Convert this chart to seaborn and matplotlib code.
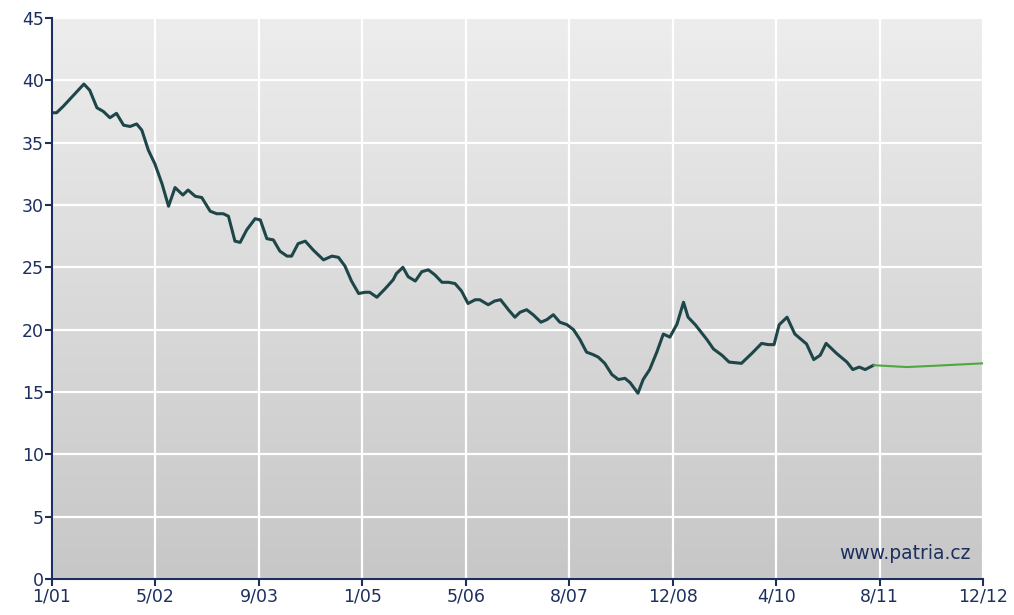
import numpy as np
import pandas as pd
import seaborn as sns
import matplotlib.pyplot as plt

# months since 1/2001 and price
mesice = [0.1, 0.7, 1.7, 3.3, 4.9, 5.8, 6.9, 7.9, 8.9, 9.9, 11.0, 12.0, 13.0, 13.8,
          14.8, 15.8, 16.9, 17.9, 18.9, 20.1, 20.9, 22.0, 23.0, 24.3, 25.3, 26.3,
          27.1, 28.1, 28.9, 29.9, 31.2, 32.0, 33.0, 34.0, 35.0, 36.1, 36.8, 37.8,
          38.9, 40.1, 41.7, 43.0, 44.0, 45.0, 46.0, 47.1, 48.1, 48.8, 49.9, 51.2,
          52.4, 52.9, 53.9, 54.7, 55.8, 56.8, 57.8, 58.8, 59.9, 60.9, 61.9, 62.9,
          63.9, 65.0, 65.7, 67.0, 68.0, 68.9, 70.1, 71.1, 71.9, 72.9, 73.9, 75.1,
          76.0, 77.0, 78.0, 79.1, 80.1, 81.1, 82.1, 83.1, 83.9, 84.9, 86.0, 87.0,
          88.0, 88.8, 90.0, 90.8, 91.8, 92.9, 93.9, 94.9, 96.0, 97.0, 97.7, 98.8,
          100.6, 101.6, 102.9, 104.0, 105.9, 107.5, 109.0, 110.0, 110.9, 111.7,
          112.9, 114.1, 115.9, 117.0, 118.0, 118.9, 120.5, 122.1, 123.0, 124.0,
          124.9, 126.2]
cena = [37.4, 37.4, 37.9, 38.8, 39.7, 39.2, 37.8, 37.5, 37.0, 37.35, 36.4, 36.3,
        36.5, 36.0, 34.4, 33.3, 31.7, 29.9, 31.4, 30.8, 31.2, 30.7, 30.6, 29.5,
        29.3, 29.3, 29.1, 27.1, 27.0, 28.0, 28.9, 28.8, 27.3, 27.2, 26.3, 25.9,
        25.9, 26.9, 27.1, 26.4, 25.6, 25.9, 25.8, 25.1, 23.9, 22.9, 23.0, 23.0,
        22.6, 23.3, 24.0, 24.5, 25.0, 24.25, 23.9, 24.65, 24.8, 24.4, 23.8, 23.8,
        23.7, 23.1, 22.1, 22.4, 22.4, 22.0, 22.3, 22.4, 21.6, 21.0, 21.4, 21.6,
        21.2, 20.6, 20.8, 21.2, 20.6, 20.4, 20.0, 19.2, 18.2, 18.0, 17.8, 17.3,
        16.4, 16.0, 16.1, 15.75, 14.9, 16.0, 16.8, 18.2, 19.65, 19.4, 20.45, 22.2,
        21.0, 20.4, 19.2, 18.45, 17.95, 17.4, 17.3, 18.1, 18.9, 18.8, 18.8, 20.4,
        21.0, 19.65, 18.85, 17.6, 17.95, 18.9, 18.1, 17.4, 16.8, 17.0, 16.8, 17.15]

# forecast
mesice_odhad = [126.2, 131.3, 135.4, 143.0]
cena_odhad = [17.15, 17.0, 17.1, 17.3]

popisky_x = ["1/01", "5/02", "9/03", "1/05", "5/06", "8/07", "12/08", "4/10", "8/11", "12/12"]
navy = "#1c2f5e"

sns.set_theme(style="white")
plt.rcParams['font.family'] = ['DejaVu Sans']

fig = plt.figure(figsize=(10.14, 6.15), dpi=100)
ax = fig.add_axes([52 / 1014, 1 - 579 / 615, 931 / 1014, 561 / 615])

# background gradient
grad = np.linspace(0, 1, 256).reshape(-1, 1)
ax.imshow(grad, extent=[0, 143, 0, 45], aspect="auto", origin="upper",
          cmap=sns.blend_palette(["#ededed", "#c7c7c7"], as_cmap=True), zorder=0)

df = pd.DataFrame({"m": mesice, "c": cena})
df2 = pd.DataFrame({"m": mesice_odhad, "c": cena_odhad})
sns.lineplot(data=df, x="m", y="c", color="#1e4648", linewidth=2.2, ax=ax, zorder=3)
sns.lineplot(data=df2, x="m", y="c", color="#4ea83f", linewidth=1.5, ax=ax, zorder=3)

ax.set_xlim(0, 143)
ax.set_ylim(0, 45)
ax.set_xticks(np.linspace(0, 143, 10))
ax.set_xticklabels(popisky_x)
ax.set_yticks(range(0, 46, 5))
ax.set_xlabel("")
ax.set_ylabel("")
ax.grid(True, color="white", linewidth=1.6)
ax.set_axisbelow(False)
for gl in ax.get_xgridlines() + ax.get_ygridlines():
    gl.set_zorder(1)

for s in ["top", "right"]:
    ax.spines[s].set_visible(False)
for s in ["left", "bottom"]:
    ax.spines[s].set_color(navy)
    ax.spines[s].set_linewidth(1.5)
    ax.spines[s].set_zorder(4)
ax.tick_params(axis="both", colors=navy, labelsize=12.5, length=5, width=1.5,
               direction="out", left=True, bottom=True, pad=1)

ax.text(0.987, 0.046, "www.patria.cz", transform=ax.transAxes, ha="right",
        va="center", color=navy, fontsize=13.5, zorder=5)

fig.savefig("out.png", dpi=100, facecolor="white")
